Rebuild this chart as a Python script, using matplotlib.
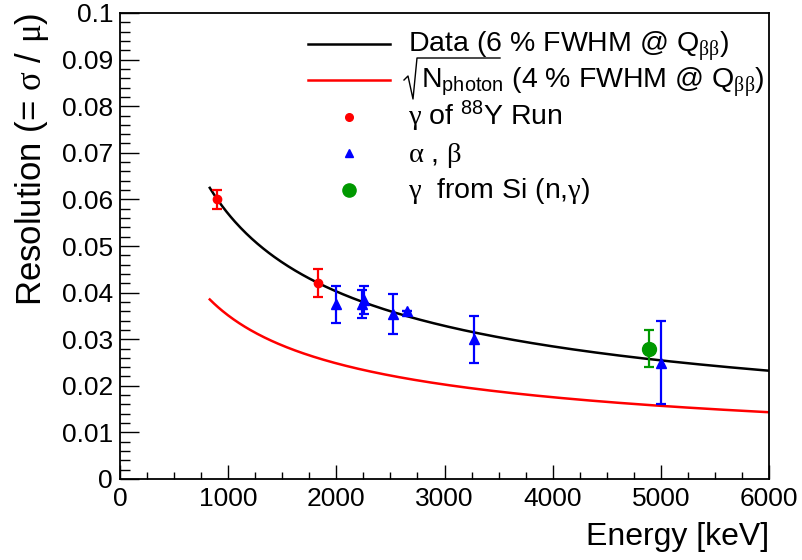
import numpy as np
import matplotlib
matplotlib.use("Agg")
import matplotlib.pyplot as plt
from matplotlib.lines import Line2D
from matplotlib.ticker import MultipleLocator

plt.rcParams['font.family'] = ['Liberation Sans', 'DejaVu Sans']
plt.rcParams['mathtext.fontset'] = 'custom'
plt.rcParams['mathtext.rm'] = 'Liberation Serif'
plt.rcParams['mathtext.sf'] = 'Liberation Sans'
plt.rcParams['mathtext.it'] = 'Liberation Sans:italic'

# gamma lines of the 88Y calibration run
e_y88 = [900, 1830]
r_y88 = [0.060, 0.042]
err_y88 = [0.002, 0.003]

# alpha / beta peaks
e_ab = [2000, 2240, 2255, 2525, 2650, 3270, 5000]
r_ab = [0.0375, 0.0376, 0.0385, 0.0355, 0.036, 0.030, 0.025]
err_ab = [0.004, 0.0030, 0.0030, 0.0043, 0.0, 0.005, 0.009]

# gamma from Si(n,gamma)
e_si = [4890]
r_si = [0.028]
err_si = [0.004]

# resolution scaling sigma/mu = k / sqrt(E[keV])
k_data = 1.80
k_photon = 1.11
e_min, e_max = 830, 6000

x_ticks = [0, 1000, 2000, 3000, 4000, 5000, 6000]
y_ticks = [0, 0.01, 0.02, 0.03, 0.04, 0.05, 0.06, 0.07, 0.08, 0.09, 0.1]
y_tick_labels = ['0', '0.01', '0.02', '0.03', '0.04', '0.05', '0.06', '0.07', '0.08', '0.09', '0.1']

W, H = 802, 560
fig = plt.figure(figsize=(W / 100, H / 100), dpi=100)


def fpos(x, y):
    """pixel position (from top-left) -> figure fraction"""
    return x / W, 1 - y / H


ax = fig.add_axes([120 / W, 1 - 479 / H, (769 - 120) / W, (479 - 13) / H])

e_curve = np.linspace(e_min, e_max, 400)
ax.plot(e_curve, k_data / np.sqrt(e_curve), color='black', lw=1.8, zorder=2)
ax.plot(e_curve, k_photon / np.sqrt(e_curve), color='#ff0000', lw=1.8, zorder=2)

eb = dict(elinewidth=1.6, capsize=3.5, capthick=1.6, zorder=3)
ax.errorbar(e_y88, r_y88, yerr=err_y88, fmt='o', color='#ff0000', ms=6, **eb)
ax.errorbar(e_ab, r_ab, yerr=err_ab, fmt='^', color='#0000ff', ms=7, **eb)
ax.errorbar(e_si, r_si, yerr=err_si, fmt='o', color='#009900', ms=10, **eb)

ax.set_xlim(0, 6000)
ax.set_ylim(0, 0.1)
ax.set_xticks(x_ticks)
ax.set_xticklabels([str(t) for t in x_ticks])
ax.set_yticks(y_ticks)
ax.set_yticklabels(y_tick_labels)
ax.xaxis.set_minor_locator(MultipleLocator(250))
ax.yaxis.set_minor_locator(MultipleLocator(0.002))
ax.tick_params(axis='both', which='both', direction='in', top=False, right=False,
               labelsize=19, width=1.0, color='black')
ax.tick_params(axis='x', which='major', length=10, pad=6)
ax.tick_params(axis='x', which='minor', length=5)
ax.tick_params(axis='y', which='major', length=14, pad=5)
ax.tick_params(axis='y', which='minor', length=7)
for s in ax.spines.values():
    s.set_linewidth(1.3)

ax.set_xlabel('Energy [keV]', fontsize=23, loc='right', labelpad=8)
ax.set_ylabel(r'Resolution (= $\mathrm{\sigma}$ / $\mathrm{\mu}$)', fontsize=25,
              loc='top', labelpad=8)

# legend, drawn row by row in figure coordinates
leg_fs = 20.5
leg_labels = [
    r'Data (6 % FWHM @ Q$_{\mathrm{\beta\beta}}$)',
    r'N$_{\mathsf{photon}}$ (4 % FWHM @ Q$_{\mathrm{\beta\beta}}$)',
    r'$\mathrm{\gamma}$ of $^{\mathsf{88}}$Y Run',
    r'$\mathrm{\alpha}$ , $\mathrm{\beta}$',
    r'$\mathrm{\gamma}$  from Si (n,$\mathrm{\gamma}$)',
]
leg_text_x = [408, 421, 408, 408, 408]
leg_styles = [
    dict(color='black', lw=1.8),
    dict(color='#ff0000', lw=1.8),
    dict(color='#ff0000', marker='o', ls='none', ms=5.5),
    dict(color='#0000ff', marker='^', ls='none', ms=5.5),
    dict(color='#009900', marker='o', ls='none', ms=9.5),
]
row_base = 52
row_step = 36.5
for i, (lab, sty, tx) in enumerate(zip(leg_labels, leg_styles, leg_text_x)):
    yb = row_base + row_step * i
    yh = yb - 8.5
    if sty.get('ls') == 'none':
        xs, ys = zip(fpos(349, yh))
    else:
        (x0, y0), (x1, y1) = fpos(308, yh), fpos(390, yh)
        xs, ys = (x0, x1), (y0, y1)
    fig.add_artist(Line2D(xs, ys, transform=fig.transFigure, **sty))
    fig.text(*fpos(tx, yb), lab, fontsize=leg_fs, ha='left', va='baseline')

# radical sign over N_photon
rad = [fpos(*p) for p in [(404, 80), (408, 76), (413, 99), (417, 58), (500, 58)]]
fig.add_artist(Line2D([p[0] for p in rad], [p[1] for p in rad],
                      transform=fig.transFigure, color='black', lw=1.0))

fig.savefig('out.png', dpi=100)
